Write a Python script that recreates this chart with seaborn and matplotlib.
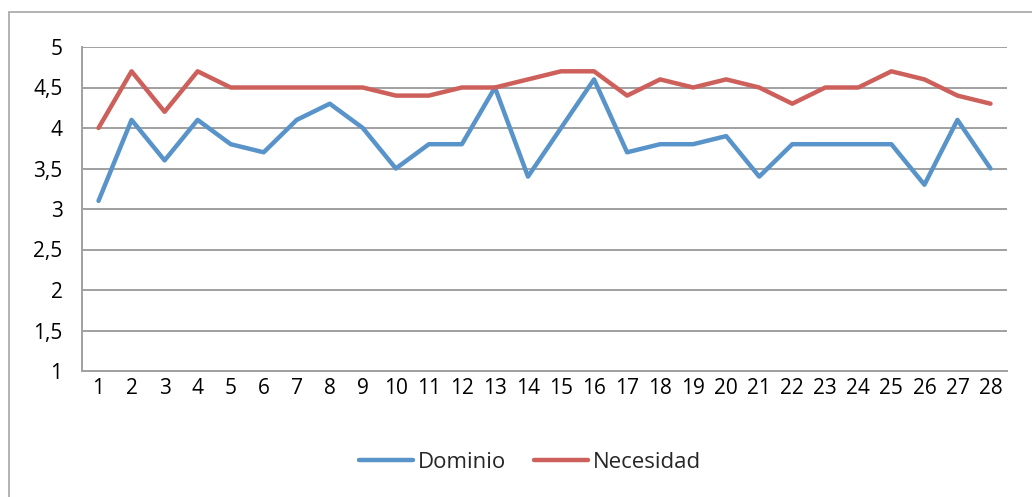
import matplotlib
matplotlib.use("Agg")
import matplotlib.pyplot as plt
import seaborn as sns
import pandas as pd
from matplotlib.patches import Rectangle

items = list(range(1, 29))
dominio = [3.1, 4.1, 3.6, 4.1, 3.8, 3.7, 4.1, 4.3, 4.0, 3.5, 3.8, 3.8, 4.5, 3.4,
           4.0, 4.6, 3.7, 3.8, 3.8, 3.9, 3.4, 3.8, 3.8, 3.8, 3.8, 3.3, 4.1, 3.5]
necesidad = [4.0, 4.7, 4.2, 4.7, 4.5, 4.5, 4.5, 4.5, 4.5, 4.4, 4.4, 4.5, 4.5, 4.6,
             4.7, 4.7, 4.4, 4.6, 4.5, 4.6, 4.5, 4.3, 4.5, 4.5, 4.7, 4.6, 4.4, 4.3]
y_ticks = [1, 1.5, 2, 2.5, 3, 3.5, 4, 4.5, 5]
y_labels = ["1", "1,5", "2", "2,5", "3", "3,5", "4", "4,5", "5"]

df = pd.DataFrame({
    "item": items * 2,
    "valor": dominio + necesidad,
    "serie": ["Dominio"] * len(items) + ["Necesidad"] * len(items),
})

sns.set_theme(style="white")
plt.rcParams['font.family'] = ['Open Sans', 'DejaVu Sans']

fig = plt.figure(figsize=(10.32, 4.97), dpi=100)
ax = fig.add_axes([82/1032, 1-371/497, (1007-82)/1032, (371-47)/497])

# outer frame
fig.patches.append(Rectangle((9/1032, -0.1), 1.2, 1-12/497+0.1, transform=fig.transFigure,
                             fill=False, edgecolor="#A6A6A6", linewidth=1.2))

palette = {"Dominio": "#5893C9", "Necesidad": "#CD605B"}
sns.lineplot(data=df, x="item", y="valor", hue="serie", palette=palette,
             linewidth=3.2, ax=ax, legend=True)

ax.set_xlim(0.5, 28.5)
ax.set_ylim(1, 5)
ax.set_yticks(y_ticks)
ax.set_yticklabels(y_labels)
ax.set_xticks(items)
ax.set_xticklabels([str(i) for i in items])
ax.set_xlabel("")
ax.set_ylabel("")
for y in y_ticks[1:]:
    ax.axhline(y, color="#A0A0A0", linewidth=1.4, zorder=0)
for s in ["top", "right"]:
    ax.spines[s].set_visible(False)
for s in ["left", "bottom"]:
    ax.spines[s].set_color("#A0A0A0")
    ax.spines[s].set_linewidth(1.4)
ax.tick_params(axis="y", length=0, pad=14, labelsize=15, colors="black")
ax.tick_params(axis="x", length=0, pad=5, labelsize=15, colors="black")

handles, labels = ax.get_legend_handles_labels()
ax.legend(handles, labels, loc="center", bbox_to_anchor=(530/1032, 1-462/497),
          bbox_transform=fig.transFigure, ncol=2, frameon=False, fontsize=16,
          handlelength=2.45, handletextpad=0.2, columnspacing=1.25)

fig.savefig("out.png", dpi=100)
